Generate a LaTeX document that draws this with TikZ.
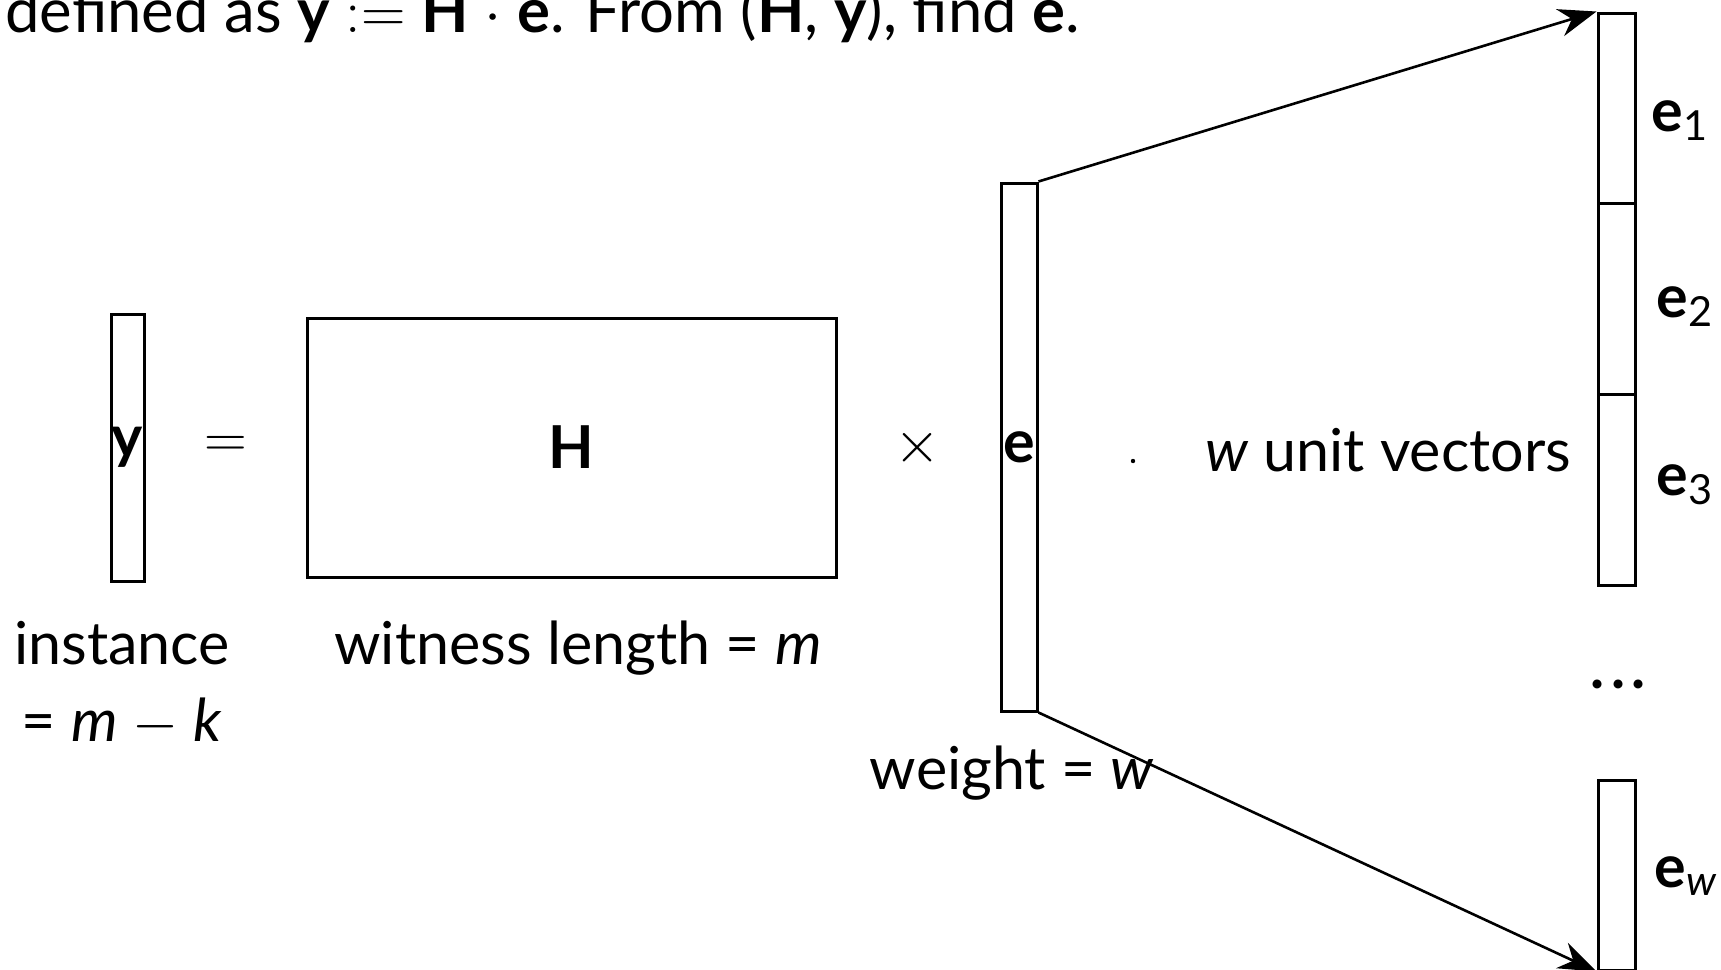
\RequirePackage{fix-cm}
\documentclass[tikz,border=0pt]{standalone}
\usepackage{fontspec}
\setmainfont{Lato}
\usetikzlibrary{arrows.meta}
\begin{document}
\begin{tikzpicture}[x=0.5pt,y=-0.5pt,
  font=\fontsize{29.6}{35}\selectfont,
  box/.style={draw, rectangle, inner sep=0pt, line width=1.5pt},
  lbl/.style={inner sep=0pt, anchor=base},
  arr/.style={-{Stealth[length=19pt,width=14pt]}, line width=1.3pt}]
\useasboundingbox (0,0) rectangle (1721,970);
\clip (0,0) rectangle (1721,970);

\node[lbl, anchor=base west, font=\fontsize{30.8}{36}\selectfont] (top) at (5,32) {defined as \textbf{y} $:=$ \textbf{H} $\cdot$ \textbf{e}. From (\textbf{H}, \textbf{y}), find \textbf{e}.};

\node[box, minimum width=16.5pt, minimum height=133.5pt] (ybox) at (127.5,447.5) {\textbf{y}};
\node (eq) at (225.5,447) {$=$};
\node[box, minimum width=264.5pt, minimum height=129.5pt] (Hbox) at (571.5,447.5) {\textbf{H}};
\node (times) at (918,448) {$\times$};
\node[box, minimum width=18pt, minimum height=264pt] (ebox) at (1019,447) {\textbf{e}};
\node[circle, fill, inner sep=0pt, minimum size=2.2pt] (dot) at (1133,461) {};
\node[lbl] (wuv) at (1388,471) {\textit{w} unit vectors};

\node[box, minimum width=18.5pt, minimum height=95pt] (e1) at (1616.5,108) {};
\node[box, minimum width=18.5pt, minimum height=95.5pt] (e2) at (1616.5,298.5) {};
\node[box, minimum width=18.5pt, minimum height=95.5pt] (e3) at (1616.5,489.5) {};
\node[box, minimum width=18.5pt, minimum height=95pt] (ew) at (1616.5,875) {};

\node[lbl, anchor=base west] (l1) at (1651,131) {\textbf{e}\textsubscript{1}};
\node[lbl, anchor=base west] (l2) at (1656,317) {\textbf{e}\textsubscript{2}};
\node[lbl, anchor=base west] (l3) at (1656,495) {\textbf{e}\textsubscript{3}};
\node[lbl, anchor=base west] (lw) at (1654,887) {\textbf{e}\textsubscript{\textit{w}}};
\node[lbl] (vdots) at (1618,688) {\textbf{.\kern3.2pt.\kern3.2pt.}};

\draw[arr] (ebox.north east) -- (e1.north west);
\draw[arr] (ebox.south east) -- (ew.south west);

\node[lbl] (inst) at (122,664) {instance};
\node[lbl] (inst2) at (122,741) {= \textit{m} $-$ \textit{k}};
\node[lbl] (wl) at (578,664) {witness length = \textit{m}};
\node[lbl] (wt) at (1012,789) {weight = \textit{w}};
\end{tikzpicture}
\end{document}
